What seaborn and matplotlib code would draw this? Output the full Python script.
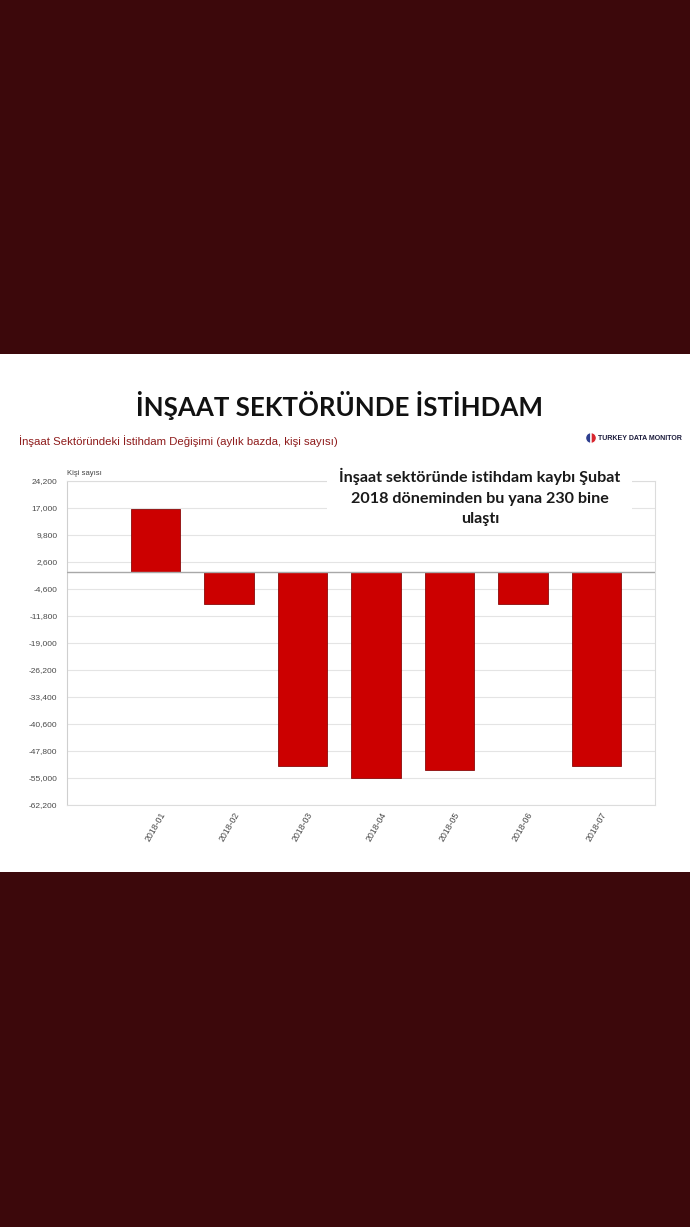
import numpy as np
import pandas as pd
import matplotlib
matplotlib.use("Agg")
import matplotlib.pyplot as plt
import matplotlib.patches as mpatches
import seaborn as sns

months = ["2018-01", "2018-02", "2018-03", "2018-04", "2018-05", "2018-06", "2018-07"]
change = [16800, -8700, -51800, -54900, -52900, -8600, -51800]
y_ticks = [24200, 17000, 9800, 2600, -4600, -11800, -19000, -26200,
           -33400, -40600, -47800, -55000, -62200]

df = pd.DataFrame({"ay": months, "degisim": change})

W, H = 690, 1227
sns.set_theme(style="white")
plt.rcParams["font.family"] = ["Liberation Sans", "DejaVu Sans"]

fig = plt.figure(figsize=(W / 100, H / 100), dpi=100)
fig.patch.set_facecolor("#3c080b")

def fx(x):
    return x / W

def fy(y):
    return 1 - y / H

# white panel
fig.patches.append(mpatches.Rectangle((0, fy(872)), 1, fy(354) - fy(872),
                                      transform=fig.transFigure, facecolor="white",
                                      edgecolor="none", zorder=-1))

ax = fig.add_axes([fx(67), fy(805), fx(655) - fx(67), fy(481) - fy(805)])
ax.set_facecolor("white")
sns.barplot(data=df, x="ay", y="degisim", color="#cc0000", edgecolor="#8a0a0a",
            linewidth=0.6, width=0.667, saturation=1, ax=ax, zorder=3)

ax.set_ylim(-62200, 24200)
ax.set_xlim(-1.204, 6.796)
ax.set_yticks(y_ticks)
ax.set_yticklabels([f"{v:,}" for v in y_ticks])
ax.yaxis.grid(True, color="#e4e4e4", linewidth=0.8, zorder=0)
ax.axhline(0, color="#a8a8a8", linewidth=1.0, zorder=4)
ax.tick_params(axis="y", length=0, pad=7, labelsize=6, labelcolor="#4a4a4a")
ax.tick_params(axis="x", length=0, pad=4, labelsize=6.3, labelcolor="#4a4a4a")
for lab in ax.get_xticklabels():
    lab.set_rotation(60)
    lab.set_ha("center")
ax.set_xlabel("")
ax.set_ylabel("")
for s in ax.spines.values():
    s.set_color("#dcdcdc")
    s.set_linewidth(0.8)
ax.spines["left"].set_color("#cfcfcf")

ax.text(0, 1.012, "Kişi sayısı", transform=ax.transAxes, fontsize=5.5,
        color="#444444", ha="left", va="bottom")

# titles
fig.text(fx(340), fy(405), "İNŞAAT SEKTÖRÜNDE İSTİHDAM", fontsize=18.6,
         fontweight="bold", family=["Lato", "DejaVu Sans"], color="#111111",
         ha="center", va="center")
fig.text(fx(19), fy(441), "İnşaat Sektöründeki İstihdam Değişimi (aylık bazda, kişi sayısı)",
         fontsize=8.2, color="#8e1b1b", ha="left", va="center")

# logo
cx, cy = 591 / 100, (H - 438) / 100
fig.patches.append(mpatches.Wedge((cx, cy), 0.055, 90, 270, facecolor="#2e3f8f",
                                  transform=fig.dpi_scale_trans, zorder=5))
fig.patches.append(mpatches.Wedge((cx, cy), 0.055, -90, 90, facecolor="#d8262e",
                                  transform=fig.dpi_scale_trans, zorder=5))
fig.text(fx(598), fy(438), "TURKEY DATA MONITOR", fontsize=5.0, fontweight="bold",
         color="#1c1c3c", ha="left", va="center")

# annotation box
fig.patches.append(mpatches.Rectangle((fx(327), fy(531)), fx(632) - fx(327), fy(462) - fy(531),
                                      transform=fig.transFigure, facecolor="white",
                                      edgecolor="none", zorder=5))
fig.text(fx(480), fy(497), "İnşaat sektöründe istihdam kaybı Şubat\n2018 döneminden bu yana 230 bine\nulaştı",
         fontsize=11.6, fontweight="bold", family=["Lato", "DejaVu Sans"], color="#1a1a1a",
         ha="center", va="center", linespacing=1.58, zorder=6)

fig.savefig("out.png", dpi=100, facecolor=fig.get_facecolor())
